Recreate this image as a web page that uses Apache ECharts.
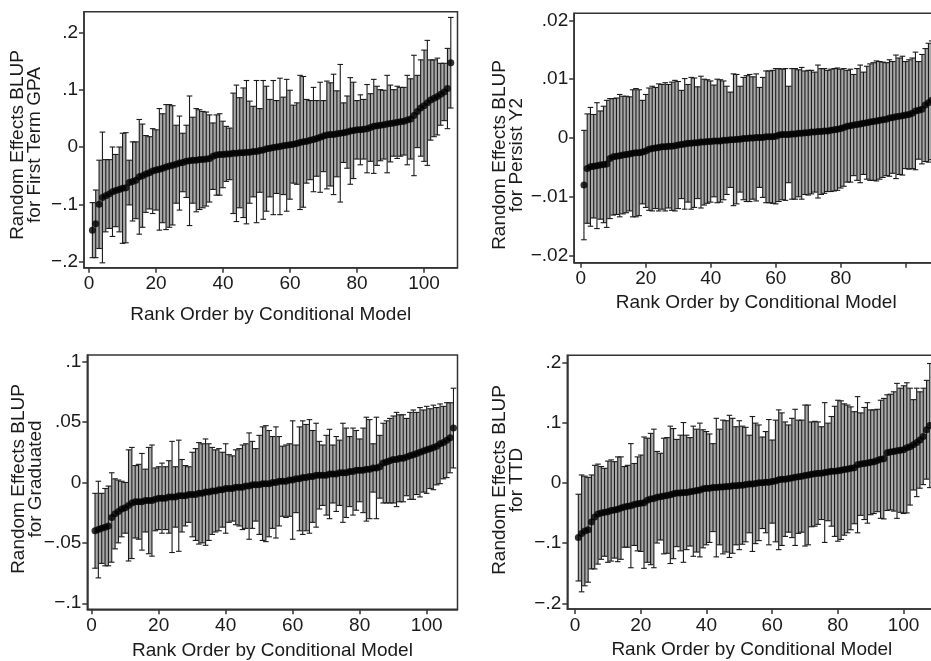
<!DOCTYPE html>
<html>
<head>
<meta charset="utf-8">
<script src="https://cdn.jsdelivr.net/npm/echarts@6/dist/echarts.min.js"></script>
<style>
  html, body { margin: 0; padding: 0; background: #fff; }
  #chart { width: 931px; height: 661px; }
</style>
</head>
<body>
<div id="chart"></div>
<script>
// BLUP estimates (dots) and upper ends of the intervals, by rank order 1..108
const p1Mean = [-0.145,-0.134,-0.100,-0.088,-0.085,-0.082,-0.078,-0.076,-0.074,-0.072,
  -0.071,-0.062,-0.060,-0.058,-0.052,-0.050,-0.047,-0.045,-0.042,-0.040,
  -0.039,-0.037,-0.035,-0.033,-0.032,-0.030,-0.028,-0.027,-0.025,-0.024,
  -0.023,-0.023,-0.022,-0.022,-0.021,-0.020,-0.016,-0.014,-0.013,-0.013,
  -0.012,-0.012,-0.011,-0.011,-0.010,-0.010,-0.009,-0.009,-0.008,-0.008,
  -0.006,-0.005,-0.003,-0.002,-0.001,0.000,0.001,0.002,0.003,0.004,
  0.005,0.006,0.008,0.009,0.010,0.012,0.013,0.015,0.017,0.019,
  0.021,0.022,0.022,0.023,0.024,0.025,0.026,0.028,0.029,0.030,
  0.030,0.031,0.032,0.034,0.036,0.037,0.038,0.039,0.040,0.041,
  0.042,0.043,0.044,0.045,0.047,0.049,0.055,0.062,0.068,0.072,
  0.077,0.082,0.085,0.088,0.092,0.096,0.102,0.147]
const p1Hi = [-0.097,-0.075,-0.023,0.026,-0.022,-0.022,0.000,-0.013,0.000,0.024,
  0.025,-0.023,0.009,0.009,0.048,0.040,0.020,0.018,0.032,0.030,
  0.067,0.058,0.074,0.074,0.072,0.038,0.054,0.024,0.038,0.089,
  0.052,0.067,0.065,0.062,0.061,0.056,0.042,0.056,0.058,0.045,
  0.036,0.033,0.094,0.108,0.086,0.103,0.116,0.080,0.071,0.116,
  0.067,0.116,0.106,0.083,0.116,0.081,0.120,0.087,0.118,0.099,
  0.073,0.077,0.125,0.123,0.083,0.081,0.104,0.081,0.113,0.081,
  0.115,0.112,0.127,0.098,0.144,0.077,0.089,0.121,0.113,0.081,
  0.091,0.083,0.109,0.093,0.118,0.106,0.100,0.099,0.125,0.108,
  0.100,0.106,0.104,0.104,0.125,0.119,0.160,0.125,0.152,0.169,
  0.186,0.152,0.152,0.155,0.146,0.146,0.172,0.226]

const p2Mean = [-0.0080,-0.0052,-0.0049,-0.0048,-0.0047,-0.0046,-0.0045,-0.0044,-0.0035,-0.0032,
  -0.0031,-0.0030,-0.0029,-0.0028,-0.0027,-0.0026,-0.0025,-0.0025,-0.0024,-0.0022,
  -0.0019,-0.0018,-0.0017,-0.0016,-0.0015,-0.0015,-0.0014,-0.0014,-0.0013,-0.0012,
  -0.0011,-0.0010,-0.0009,-0.0009,-0.0008,-0.0008,-0.0007,-0.0007,-0.0006,-0.0006,
  -0.0005,-0.0005,-0.0005,-0.0004,-0.0004,-0.0003,-0.0003,-0.0002,-0.0002,-0.0001,
  -0.0001,0.0000,0.0000,0.0001,0.0001,0.0001,0.0002,0.0002,0.0002,0.0003,
  0.0005,0.0006,0.0006,0.0006,0.0007,0.0007,0.0008,0.0008,0.0009,0.0009,
  0.0010,0.0010,0.0011,0.0011,0.0012,0.0012,0.0013,0.0014,0.0015,0.0016,
  0.0018,0.0020,0.0021,0.0022,0.0023,0.0024,0.0025,0.0026,0.0027,0.0028,
  0.0029,0.0030,0.0031,0.0032,0.0034,0.0035,0.0036,0.0037,0.0038,0.0039,
  0.0040,0.0042,0.0046,0.0047,0.0049,0.0056,0.0060,0.0064]
const p2Hi = [0.0013,0.0041,0.0052,0.0040,0.0060,0.0046,0.0054,0.0064,0.0067,0.0067,
  0.0068,0.0074,0.0071,0.0071,0.0070,0.0082,0.0084,0.0082,0.0064,0.0074,
  0.0085,0.0088,0.0086,0.0092,0.0091,0.0094,0.0091,0.0095,0.0098,0.0096,
  0.0081,0.0101,0.0091,0.0103,0.0102,0.0087,0.0105,0.0100,0.0099,0.0097,
  0.0090,0.0100,0.0099,0.0097,0.0088,0.0078,0.0109,0.0108,0.0088,0.0103,
  0.0106,0.0108,0.0104,0.0109,0.0086,0.0103,0.0114,0.0114,0.0115,0.0118,
  0.0118,0.0117,0.0118,0.0088,0.0118,0.0118,0.0116,0.0120,0.0114,0.0115,
  0.0115,0.0112,0.0124,0.0118,0.0118,0.0115,0.0117,0.0118,0.0119,0.0117,
  0.0118,0.0115,0.0117,0.0108,0.0118,0.0124,0.0112,0.0122,0.0126,0.0128,
  0.0131,0.0130,0.0129,0.0128,0.0133,0.0130,0.0141,0.0136,0.0139,0.0130,
  0.0133,0.0136,0.0146,0.0130,0.0142,0.0152,0.0161,0.0165]

const p3Mean = [-0.040,-0.039,-0.038,-0.037,-0.036,-0.029,-0.026,-0.024,-0.022,-0.021,
  -0.019,-0.017,-0.016,-0.016,-0.016,-0.015,-0.015,-0.015,-0.014,-0.013,
  -0.013,-0.013,-0.012,-0.012,-0.012,-0.011,-0.011,-0.011,-0.010,-0.010,
  -0.010,-0.009,-0.009,-0.008,-0.008,-0.007,-0.007,-0.006,-0.006,-0.005,
  -0.005,-0.005,-0.004,-0.004,-0.004,-0.003,-0.003,-0.002,-0.002,-0.002,
  -0.001,-0.001,-0.001,0.000,0.000,0.001,0.001,0.001,0.002,0.002,
  0.003,0.003,0.004,0.004,0.005,0.005,0.006,0.006,0.006,0.006,
  0.007,0.007,0.007,0.008,0.008,0.008,0.009,0.009,0.010,0.010,
  0.010,0.011,0.011,0.012,0.012,0.013,0.016,0.017,0.018,0.019,
  0.019,0.020,0.020,0.021,0.022,0.023,0.024,0.025,0.026,0.027,
  0.028,0.029,0.030,0.032,0.033,0.035,0.037,0.045]
const p3Hi = [-0.009,0.001,-0.009,-0.005,-0.003,0.008,0.003,0.002,0.001,0.000,
  0.027,0.029,0.014,0.015,0.024,0.011,0.029,0.031,0.012,0.013,
  0.016,0.013,0.018,0.034,0.013,0.035,0.019,0.014,0.013,0.025,
  0.028,0.033,0.032,0.036,0.032,0.029,0.027,0.028,0.025,0.032,
  0.023,0.022,0.027,0.028,0.031,0.032,0.041,0.034,0.028,0.039,
  0.046,0.047,0.043,0.038,0.046,0.038,0.030,0.031,0.032,0.051,
  0.031,0.046,0.051,0.048,0.052,0.043,0.049,0.034,0.031,0.039,
  0.044,0.031,0.038,0.035,0.049,0.045,0.038,0.045,0.043,0.036,
  0.045,0.054,0.052,0.032,0.054,0.039,0.049,0.051,0.053,0.055,
  0.058,0.056,0.056,0.053,0.058,0.060,0.058,0.062,0.060,0.063,
  0.061,0.064,0.062,0.065,0.063,0.066,0.066,0.078]

const p4Mean = [-0.091,-0.084,-0.080,-0.078,-0.065,-0.057,-0.052,-0.050,-0.049,-0.048,
  -0.046,-0.045,-0.044,-0.042,-0.040,-0.039,-0.038,-0.036,-0.035,-0.034,
  -0.033,-0.029,-0.027,-0.026,-0.024,-0.023,-0.022,-0.021,-0.020,-0.018,
  -0.017,-0.017,-0.016,-0.016,-0.015,-0.014,-0.013,-0.012,-0.010,-0.009,
  -0.009,-0.008,-0.008,-0.007,-0.007,-0.006,-0.006,-0.005,-0.005,-0.004,
  -0.004,-0.003,-0.002,-0.002,-0.001,0.000,0.000,0.001,0.001,0.002,
  0.003,0.005,0.006,0.006,0.007,0.008,0.009,0.010,0.011,0.012,
  0.013,0.014,0.015,0.016,0.016,0.017,0.018,0.019,0.019,0.020,
  0.021,0.022,0.023,0.024,0.025,0.030,0.031,0.032,0.033,0.034,
  0.035,0.037,0.039,0.040,0.050,0.051,0.052,0.053,0.054,0.055,
  0.058,0.060,0.063,0.067,0.071,0.077,0.088,0.095]
const p4Hi = [-0.019,0.013,0.011,0.009,0.013,0.029,0.031,0.027,0.024,0.036,
  0.038,0.035,0.043,0.043,0.027,0.029,0.065,0.032,0.043,0.046,
  0.076,0.074,0.082,0.089,0.052,0.049,0.074,0.075,0.094,0.090,
  0.072,0.079,0.100,0.079,0.075,0.094,0.089,0.099,0.088,0.085,
  0.081,0.065,0.107,0.089,0.104,0.103,0.112,0.107,0.093,0.103,
  0.094,0.092,0.079,0.110,0.099,0.096,0.076,0.085,0.105,0.071,
  0.104,0.121,0.116,0.101,0.096,0.107,0.122,0.104,0.104,0.129,
  0.129,0.101,0.102,0.101,0.093,0.133,0.099,0.110,0.127,0.137,
  0.136,0.131,0.129,0.126,0.118,0.143,0.116,0.125,0.133,0.121,
  0.121,0.122,0.137,0.140,0.146,0.147,0.151,0.165,0.157,0.161,
  0.166,0.157,0.138,0.157,0.151,0.157,0.170,0.198]

const xTicks = [0, 20, 40, 60, 80, 100]
const yTicks1 = [-0.2, -0.1, 0, 0.1, 0.2]
const yTicks2 = [-0.02, -0.01, 0, 0.01, 0.02]
const yTicks3 = [-0.1, -0.05, 0, 0.05, 0.1]
const yTicks4 = [-0.2, -0.1, 0, 0.1, 0.2]

const xTitle = 'Rank Order by Conditional Model'
const yTitles = [
  'Random Effects BLUP\nfor First Term GPA',
  'Random Effects BLUP\nfor Persist Y2',
  'Random Effects BLUP\nfor Graduated',
  'Random Effects BLUP\nfor TTD'
]

const FONT = '"Liberation Sans", Arial, Helvetica, sans-serif'
const INK = '#1a1a1a'
const FRAME = '#333'

// layout of the four plot regions (pixels) and their axis ranges
const panels = [
  { mean: p1Mean, hi: p1Hi, yTicks: yTicks1, xLabels: xTicks,
    grid: { left: 84, top: 11.7, width: 373.5, height: 256 },
    x: [-1.5, 110], y: [-0.2105, 0.236], nameGap: 38, title: [26.5, 145] },
  { mean: p2Mean, hi: p2Hi, yTicks: yTicks2, xLabels: [0, 20, 40, 60, 80],
    grid: { left: 574.2, top: 13.3, width: 364, height: 249.4 },
    x: [-2, 110], y: [-0.0212, 0.0212], nameGap: 31, title: [508, 155] },
  { mean: p3Mean, hi: p3Hi, yTicks: yTicks3, xLabels: xTicks,
    grid: { left: 87.3, top: 355, width: 370.2, height: 254.3 },
    x: [-1.3, 109.2], y: [-0.105, 0.1055], nameGap: 32, title: [27, 479] },
  { mean: p4Mean, hi: p4Hi, yTicks: yTicks4, xLabels: xTicks,
    grid: { left: 567.3, top: 355.3, width: 369.1, height: 253.7 },
    x: [-2.35, 110], y: [-0.2095, 0.2116], nameGap: 31, title: [508, 480] }
]

// Stata style tick labels: .2, −.1, 0
const fmtY = v => {
  if (v === 0) return '0'
  const s = String(Math.abs(v)).replace(/^0/, '')
  return (v < 0 ? '\u2212' : '') + s
}

const lineStyle = { color: FRAME, width: 1.5 }
const textStyle = { color: INK, fontSize: 19, fontFamily: FONT }

const grids = [], xAxes = [], yAxes = [], series = [], graphics = []

panels.forEach((p, g) => {
  const lo = k => 2 * p.mean[k] - p.hi[k]
  const rows = p.mean.map((m, k) => [k + 1, lo(k), p.hi[k], m])

  grids.push(Object.assign({
    show: true, borderColor: FRAME, borderWidth: 1.5,
    backgroundColor: 'transparent', containLabel: false, outerBoundsMode: 'none'
  }, p.grid))

  xAxes.push({
    gridIndex: g, type: 'value', min: p.x[0], max: p.x[1],
    name: xTitle, nameLocation: 'middle', nameGap: p.nameGap,
    nameTextStyle: textStyle,
    axisLine: { show: true, onZero: false, lineStyle },
    axisTick: { show: true, length: 5, customValues: xTicks, lineStyle },
    axisLabel: Object.assign({ customValues: p.xLabels, margin: 7 }, textStyle),
    splitLine: { show: false }
  })

  yAxes.push({
    gridIndex: g, type: 'value', min: p.y[0], max: p.y[1],
    axisLine: { show: true, onZero: false, lineStyle },
    axisTick: { show: true, length: 5, customValues: p.yTicks, lineStyle },
    axisLabel: Object.assign({ customValues: p.yTicks, margin: 6, formatter: fmtY }, textStyle),
    splitLine: { show: false }
  })

  // grey fill that the dense bars leave between neighbours
  series.push({
    type: 'custom', xAxisIndex: g, yAxisIndex: g, silent: true, z: 1,
    data: rows,
    encode: { x: 0, y: [1, 2] },
    renderItem(params, api) {
      const k = params.dataIndex
      if (k >= rows.length - 1) return null
      const top = Math.min(rows[k][2], rows[k + 1][2])
      const bot = Math.max(rows[k][1], rows[k + 1][1])
      if (top <= bot) return null
      const a = api.coord([rows[k][0], top])
      const b = api.coord([rows[k + 1][0], bot])
      return {
        type: 'rect',
        shape: { x: a[0], y: a[1], width: b[0] - a[0], height: b[1] - a[1] },
        style: { fill: '#a9a9a9' }
      }
    }
  })

  // capped interval bars
  series.push({
    type: 'custom', xAxisIndex: g, yAxisIndex: g, silent: true, z: 2,
    data: rows,
    encode: { x: 0, y: [1, 2] },
    renderItem(params, api) {
      const x = api.value(0)
      const b = api.coord([x, api.value(1)])
      const t = api.coord([x, api.value(2)])
      const cw = 2.8
      const st = { stroke: INK, lineWidth: 1.1 }
      return {
        type: 'group',
        children: [
          { type: 'line', shape: { x1: t[0], y1: t[1], x2: b[0], y2: b[1] }, style: st },
          { type: 'line', shape: { x1: t[0] - cw, y1: t[1], x2: t[0] + cw, y2: t[1] }, style: st },
          { type: 'line', shape: { x1: b[0] - cw, y1: b[1], x2: b[0] + cw, y2: b[1] }, style: st }
        ]
      }
    }
  })

  series.push({
    type: 'scatter', xAxisIndex: g, yAxisIndex: g, silent: true, z: 3,
    data: rows.map(r => [r[0], r[3]]),
    symbol: 'circle', symbolSize: 7,
    itemStyle: { color: '#000' }
  })

  graphics.push({
    type: 'text', x: p.title[0], y: p.title[1], rotation: Math.PI / 2,
    style: {
      text: yTitles[g], fill: INK, font: '19px ' + FONT, lineHeight: 17,
      align: 'center', verticalAlign: 'middle'
    }
  })
})

const chart = echarts.init(document.getElementById('chart'))
chart.setOption({
  animation: false,
  backgroundColor: '#fff',
  grid: grids,
  xAxis: xAxes,
  yAxis: yAxes,
  series,
  graphic: graphics
})
</script>
</body>
</html>
